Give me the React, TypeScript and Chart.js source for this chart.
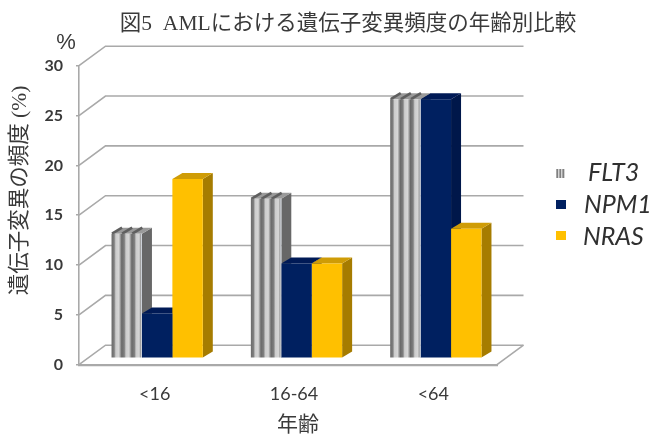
import React, { useEffect, useRef } from "react";
import { Chart, registerables } from "chart.js";

Chart.register(...registerables);

const categories = ["<16", "16-64", "<64"];
const flt3Values = [12.5, 16, 26];
const npm1Values = [4.5, 9.5, 26];
const nrasValues = [18, 9.5, 13];
const seriesNames = ["FLT3", "NPM1", "NRAS"];

const INK = "#3a3a3a";
const GRID = "#a9a9a9";
const CJK = '"Liberation Serif", "Noto Sans CJK JP", serif';
const LATIN = 'Lato, "Liberation Sans", sans-serif';

// Projection of the 3D look: wall depth and how far the bar plane sits inside it.
const WALL_DX = 26.5;
const WALL_DY = -19.5;
const BAR_DX = 8.5;
const BAR_DY = -6.4;
const TOP_DX = 10;
const TOP_DY = -6;
const CATEGORY_PCT = 0.655;

const faceColors = [
  { side: "#676767", top: "#9a9a9a" },
  { side: "#00174a", top: "#001a56" },
  { side: "#a67c00", top: "#cf9c06" },
];

const stripeStops: [number, string][] = [
  [0, "#6a6a6a"],
  [0.26, "#7f7f7f"],
  [0.42, "#cccccc"],
  [0.72, "#d6d6d6"],
  [0.86, "#a0a0a0"],
  [1, "#6a6a6a"],
];

function stripedFill(ctx: any) {
  const xScale = ctx.chart.scales.x;
  const catWidth = xScale ? xScale.width / categories.length : NaN;
  const centre = xScale && ctx.dataIndex !== undefined ? xScale.getPixelForValue(ctx.dataIndex) : NaN;
  if (!Number.isFinite(catWidth) || !Number.isFinite(centre)) return "#bdbdbd";
  const left = centre - (catWidth * CATEGORY_PCT) / 2;
  const width = (catWidth * CATEGORY_PCT) / 3;
  const g = ctx.chart.ctx.createLinearGradient(left, 0, left + width, 0);
  for (let i = 0; i < 3; i++) {
    for (const [at, color] of stripeStops) {
      g.addColorStop((i + at) / 3, i === 2 && at === 1 ? "#dfe6f0" : color);
    }
  }
  return g;
}

// Side and top faces are painted left to right before any front face,
// so each front covers whatever depth lies behind it.
function drawDepthFaces(chart: any) {
  const { ctx } = chart;
  chart.data.datasets.forEach((_: any, index: number) => {
    const colors = faceColors[index];
    for (const bar of chart.getDatasetMeta(index).data) {
      const l = bar.x - bar.width / 2;
      const r = bar.x + bar.width / 2;
      ctx.fillStyle = colors.side;
      ctx.beginPath();
      ctx.moveTo(r, bar.y);
      ctx.lineTo(r + TOP_DX, bar.y + TOP_DY);
      ctx.lineTo(r + TOP_DX, bar.base + TOP_DY);
      ctx.lineTo(r, bar.base);
      ctx.closePath();
      ctx.fill();
      ctx.fillStyle = colors.top;
      ctx.beginPath();
      ctx.moveTo(l, bar.y);
      ctx.lineTo(l + TOP_DX, bar.y + TOP_DY);
      ctx.lineTo(r + TOP_DX, bar.y + TOP_DY);
      ctx.lineTo(r, bar.y);
      ctx.closePath();
      ctx.fill();
      if (index === 0) {
        // Dark creases that carry the stripes over the top of the column.
        ctx.strokeStyle = "#5f5f5f";
        ctx.lineWidth = 2.6;
        for (let k = 0; k < 3; k++) {
          const sx = l + ((k + 0.05) * bar.width) / 3;
          ctx.beginPath();
          ctx.moveTo(sx, bar.y);
          ctx.lineTo(sx + TOP_DX, bar.y + TOP_DY);
          ctx.stroke();
        }
      }
    }
  });
}

const walledBars = {
  id: "walledBars",
  beforeDatasetsDraw(chart: any) {
    const { ctx, scales } = chart;
    const { left, right } = scales.x;
    const floor = scales.y.bottom;
    ctx.save();
    ctx.strokeStyle = GRID;
    ctx.lineWidth = 1.6;
    for (const tick of scales.y.ticks) {
      const y = scales.y.getPixelForValue(tick.value);
      ctx.beginPath();
      ctx.moveTo(left, y);
      ctx.lineTo(left + WALL_DX, y + WALL_DY);
      ctx.lineTo(right + WALL_DX, y + WALL_DY);
      ctx.stroke();
    }
    ctx.beginPath();
    ctx.moveTo(right, floor);
    ctx.lineTo(right + WALL_DX, floor + WALL_DY);
    ctx.stroke();
    ctx.restore();
    ctx.save();
    ctx.translate(BAR_DX, BAR_DY);
    drawDepthFaces(chart);
  },
  afterDatasetsDraw(chart: any) {
    chart.ctx.restore();
  },
};

const legendSpots = [
  { swatchX: 556, swatchY: 169, textX: 588, textY: 173 },
  { swatchX: 556, swatchY: 200, textX: 584, textY: 205 },
  { swatchX: 556, swatchY: 231, textX: 583, textY: 237 },
];

const pageText = {
  id: "pageText",
  afterDraw(chart: any) {
    const { ctx } = chart;
    ctx.save();
    ctx.fillStyle = INK;
    ctx.textBaseline = "middle";
    ctx.textAlign = "center";

    ctx.font = `21.5px ${CJK}`;
    ctx.fillText("図5  AMLにおける遺伝子変異頻度の年齢別比較", 348, 24);
    ctx.font = `21px ${CJK}`;
    ctx.fillText("年齢", 298, 425);

    ctx.font = '22px "Liberation Sans", sans-serif';
    ctx.fillText("%", 66, 43);

    ctx.save();
    ctx.translate(20, 190.5);
    ctx.rotate(-Math.PI / 2);
    ctx.font = `21.5px ${CJK}`;
    ctx.fillText("遺伝子変異の頻度 (%)", 0, 0);
    ctx.restore();

    ctx.textAlign = "left";
    ctx.font = `italic 25px ${LATIN}`;
    seriesNames.forEach((name, i) => {
      const spot = legendSpots[i];
      if (i === 0) {
        ctx.fillStyle = "#d4d4d4";
        ctx.fillRect(spot.swatchX, spot.swatchY, 9, 9);
        ctx.fillStyle = "#777777";
        for (let k = 0; k < 3; k++) ctx.fillRect(spot.swatchX + 0.5 + k * 3, spot.swatchY, 1.4, 9);
      } else {
        ctx.fillStyle = chart.data.datasets[i].backgroundColor;
        ctx.fillRect(spot.swatchX, spot.swatchY, 10, 9);
      }
      ctx.fillStyle = "#303030";
      ctx.fillText(name, spot.textX, spot.textY);
    });
    ctx.restore();
  },
};

export default function App() {
  const canvasRef = useRef<HTMLCanvasElement>(null);

  useEffect(() => {
    const chart = new Chart(canvasRef.current!, {
      type: "bar",
      data: {
        labels: categories,
        datasets: [
          { label: seriesNames[0], data: flt3Values, backgroundColor: stripedFill, clip: false },
          { label: seriesNames[1], data: npm1Values, backgroundColor: "#002060", clip: false },
          { label: seriesNames[2], data: nrasValues, backgroundColor: "#ffc000", clip: false },
        ] as any,
      },
      options: {
        animation: false,
        responsive: false,
        layout: { padding: { left: 0, top: 65.7, right: 158, bottom: 0 } },
        datasets: { bar: { barPercentage: 1, categoryPercentage: CATEGORY_PCT, borderWidth: 0 } },
        plugins: { legend: { display: false }, title: { display: false }, tooltip: { enabled: false } },
        scales: {
          x: {
            afterFit: (s: any) => {
              s.height = 69.3;
            },
            grid: { display: false },
            border: { color: GRID, width: 2.2 },
            ticks: {
              color: INK,
              font: { family: LATIN, size: 18 },
              padding: 11,
              labelOffset: 6,
              maxRotation: 0,
            },
          },
          y: {
            min: 0,
            max: 30,
            afterFit: (s: any) => {
              s.width = 79;
            },
            grid: { drawOnChartArea: false, tickLength: 3, color: GRID, lineWidth: 1.5 },
            border: { color: GRID, width: 1.6 },
            ticks: {
              stepSize: 5,
              color: INK,
              font: { family: LATIN, size: 16, weight: "bold" },
              padding: 13,
            },
          },
        },
      },
      plugins: [walledBars, pageText],
    });
    return () => chart.destroy();
  }, []);

  return (
    <div style={{ position: "fixed", left: 0, top: 0 }}>
      <canvas ref={canvasRef} width={655} height={434} style={{ display: "block" }} />
    </div>
  );
}
